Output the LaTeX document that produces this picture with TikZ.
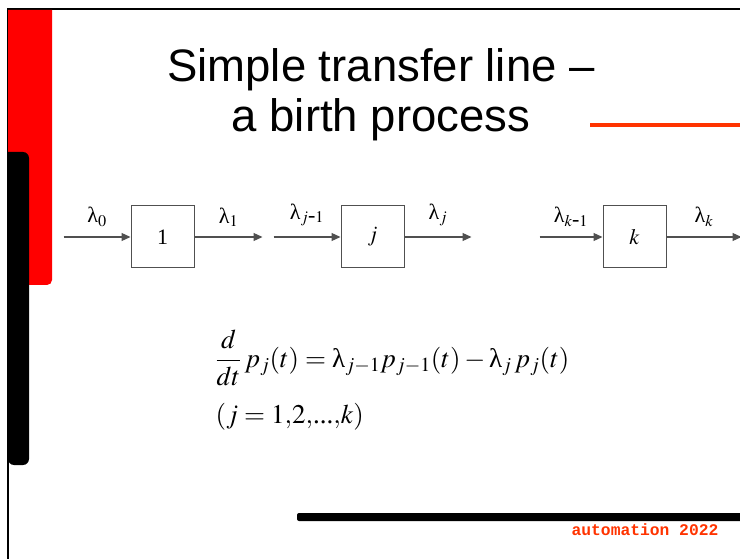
\documentclass[tikz,border=0pt]{standalone}
\usepackage{mathptmx}
\usepackage[no-math]{fontspec}
\setmainfont{Liberation Serif}
\newfontfamily\titlefont{Liberation Sans}
\newfontfamily\footfont{Liberation Mono}
\newcommand\lam{\mbox{λ}}
\definecolor{slidered}{HTML}{FF0000}
\definecolor{accentorange}{HTML}{FF3300}
\definecolor{linegray}{HTML}{505050}
\usetikzlibrary{arrows.meta, positioning}
\tikzstyle{station} = [
  draw=linegray, line width=1pt,
  minimum width=63pt, minimum height=62pt,
  font=\fontsize{22}{24}\selectfont
]
\tikzstyle{flow} = [
  -{Triangle[length=9pt,width=8pt]}, line width=1.3pt, color=linegray
]
\tikzstyle{rate} = [
  above, inner sep=1pt, yshift=9pt, text=black,
  font=\fontsize{22}{24}\selectfont
]

\begin{document}
\begin{tikzpicture}[x=1pt, y=-1pt, node distance=146pt]

  \useasboundingbox (0,0) rectangle (740,559);

  % ── Slide frame ───────────────────────────────────────
  \draw[line width=2pt] (740,9) -- (8,9) -- (8,559);
  \fill[slidered] (8,10) -- (52,10) [rounded corners=5pt] -- (52,285)
    -- (8,285) [sharp corners] -- cycle;
  \fill[black] (8,152) [rounded corners=6pt] -- (29,152) -- (29,465)
    -- (8,465) [sharp corners] -- cycle;
  \fill[accentorange] (590,123) rectangle (740,127);
  \fill[black, rounded corners=2pt] (297,513) rectangle (745,521);

  % ── Title ─────────────────────────────────────────────
  \node[align=center, font=\titlefont\fontsize{45.5}{50}\selectfont]
    (title) at (381,95) {Simple transfer line –\\a birth process};

  % ── Stations ──────────────────────────────────────────
  \node[station] (st1) at (162.5,237) {1};
  \node[station, right=146pt of st1] (stj) {$j$};
  \node[station, right=198pt of stj] (stk) {$k$};

  \coordinate[left=67pt of st1]  (in1);
  \coordinate[right=68pt of st1] (out1);
  \coordinate[left=67pt of stj]  (inj);
  \coordinate[right=67pt of stj] (outj);
  \coordinate[left=63pt of stk]  (ink);
  \coordinate[right=75pt of stk] (outk);

  % ── Flows ─────────────────────────────────────────────
  \draw[flow] (in1)  -- node[rate] (lam0)  {$\lam_0$}      (st1);
  \draw[flow] (st1)  -- node[rate] (lam1)  {$\lam_1$}      (out1);
  \draw[flow] (inj)  -- node[rate] (lamjm) {$\lam_{j\mbox{-}1}$}  (stj);
  \draw[flow] (stj)  -- node[rate] (lamj)  {$\lam_j$}      (outj);
  \draw[flow] (ink)  -- node[rate] (lamkm) {$\lam_{k\mbox{-}1}$}  (stk);
  \draw[flow] (stk)  -- node[rate] (lamk)  {$\lam_k$}      (outk);

  % ── Balance equation ──────────────────────────────────
  \node[anchor=west, align=left, font=\fontsize{27}{32}\selectfont]
    (eqn) at (212,380)
    {$\displaystyle \frac{d}{dt}\,p_j(t)=\lam_{j-1}p_{j-1}(t)-\lam_j\,p_j(t)$\\[16pt]
     $(j=1{,}2{,}\mbox{...}{,}k)$};

  % ── Footer ────────────────────────────────────────────
  \node[text=accentorange, font=\footfont\bfseries\fontsize{16.3}{18}\selectfont]
    (footer) at (645,530) {automation 2022};

\end{tikzpicture}
\end{document}
